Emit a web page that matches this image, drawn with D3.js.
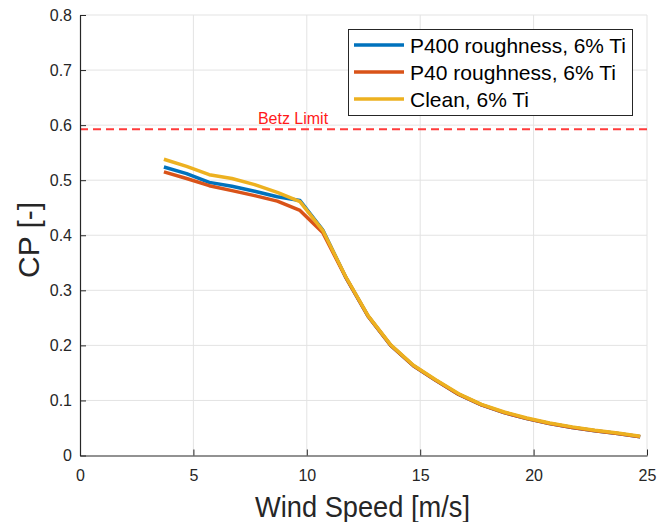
<!DOCTYPE html>
<html><head><meta charset="utf-8">
<script src="https://cdn.jsdelivr.net/npm/d3@7"></script>
<style>body{margin:0;background:#fff}svg{display:block}text{font-family:"Liberation Sans",Arial,sans-serif}</style>
</head><body><svg id="c" width="670" height="522"></svg>
<script>
const windSpeed = [3.7,4.7,5.7,6.7,7.7,8.7,9.7,10.7,11.7,12.7,13.7,14.7,15.7,16.7,17.7,18.7,19.7,20.7,21.7,22.7,23.7,24.7];
const cpP400  = [0.524,0.512,0.496,0.489,0.480,0.470,0.463,0.410,0.325,0.253,0.200,0.163,0.136,0.111,0.092,0.078,0.067,0.058,0.051,0.045,0.040,0.034];
const cpP40   = [0.515,0.503,0.490,0.481,0.472,0.462,0.445,0.405,0.325,0.253,0.200,0.163,0.136,0.111,0.092,0.078,0.067,0.058,0.051,0.045,0.040,0.034];
const cpClean = [0.538,0.525,0.510,0.503,0.492,0.478,0.461,0.409,0.326,0.254,0.201,0.164,0.137,0.112,0.093,0.079,0.068,0.059,0.052,0.046,0.041,0.035];
const seriesNames = ["P400 roughness, 6% Ti","P40 roughness, 6% Ti","Clean, 6% Ti"];
const seriesColors = ["#0072BD","#D95319","#EDB120"];
const betzLimit = 16/27;
const xTicks = [0,5,10,15,20,25];
const yTicks = [0,0.1,0.2,0.3,0.4,0.5,0.6,0.7,0.8];

const svg = d3.select("#c");
const L=80,R=647,T=15,B=455.5;
const x = d3.scaleLinear().domain([0,25]).range([L,R]);
const y = d3.scaleLinear().domain([0,0.8]).range([B,T]);
const ax="#262626";

// grid
svg.append("g").selectAll("line").data(xTicks.slice(1)).join("line")
  .attr("x1",d=>x(d)).attr("x2",d=>x(d)).attr("y1",T).attr("y2",B)
  .attr("stroke","#e3e3e3").attr("stroke-width",1);
svg.append("g").selectAll("line").data(yTicks.slice(1)).join("line")
  .attr("x1",L).attr("x2",R).attr("y1",d=>y(d)).attr("y2",d=>y(d))
  .attr("stroke","#e3e3e3").attr("stroke-width",1);

// betz
svg.append("line").attr("x1",L).attr("x2",R).attr("y1",y(betzLimit)).attr("y2",y(betzLimit))
  .attr("stroke","#ff3b3b").attr("stroke-width",2).attr("stroke-dasharray","8,5");
svg.append("text").attr("x",293).attr("y",124).attr("text-anchor","middle")
  .attr("fill","#ff1a1a").attr("font-size",16).text("Betz Limit");

// lines
const allSeries=[cpP400,cpP40,cpClean];
const line=d3.line().x((d,i)=>x(windSpeed[i])).y(d=>y(d));
allSeries.forEach((s,k)=>{
  svg.append("path").datum(s).attr("d",line).attr("fill","none")
    .attr("stroke",seriesColors[k]).attr("stroke-width",3.5).attr("stroke-linejoin","round");
});

// axes
const xa=svg.append("g").attr("transform",`translate(0,${B})`)
  .call(d3.axisBottom(x).tickValues(xTicks).tickSizeInner(-6).tickSizeOuter(0).tickPadding(14));
const ya=svg.append("g").attr("transform",`translate(${L},0)`)
  .call(d3.axisLeft(y).tickValues(yTicks).tickFormat(d=>d===0?"0":d3.format(".1f")(d)).tickSizeInner(-6).tickSizeOuter(0).tickPadding(8));
[xa,ya].forEach(g=>{
  g.select(".domain").attr("stroke",ax).attr("stroke-width",1.2);
  g.selectAll(".tick line").attr("stroke",ax).attr("stroke-width",1);
  g.selectAll(".tick text").attr("fill",ax).attr("font-size",16).attr("font-family","Liberation Sans, Arial, sans-serif");
});

svg.append("text").attr("x",362.5).attr("y",517).attr("text-anchor","middle")
  .attr("fill",ax).attr("font-size",29).attr("textLength",215).attr("lengthAdjust","spacingAndGlyphs")
  .text("Wind Speed [m/s]");
svg.append("text").attr("transform","translate(38.5,240) rotate(-90)").attr("text-anchor","middle")
  .attr("fill",ax).attr("font-size",29).attr("textLength",76).attr("lengthAdjust","spacingAndGlyphs")
  .text("CP [-]");

// legend
const legendWidths=[216,206,119];
const lg=svg.append("g");
lg.append("rect").attr("x",348.5).attr("y",29.5).attr("width",284).attr("height",86)
  .attr("fill","#fff").attr("stroke","#262626").attr("stroke-width",1);
seriesNames.forEach((n,k)=>{
  const yy=45+k*27;
  lg.append("line").attr("x1",354).attr("x2",404).attr("y1",yy).attr("y2",yy)
    .attr("stroke",seriesColors[k]).attr("stroke-width",3.5);
  lg.append("text").attr("x",410).attr("y",yy+7.5).attr("font-size",21).attr("fill","#000")
    .attr("textLength",legendWidths[k]).attr("lengthAdjust","spacingAndGlyphs").text(n);
});
</script></body></html>
